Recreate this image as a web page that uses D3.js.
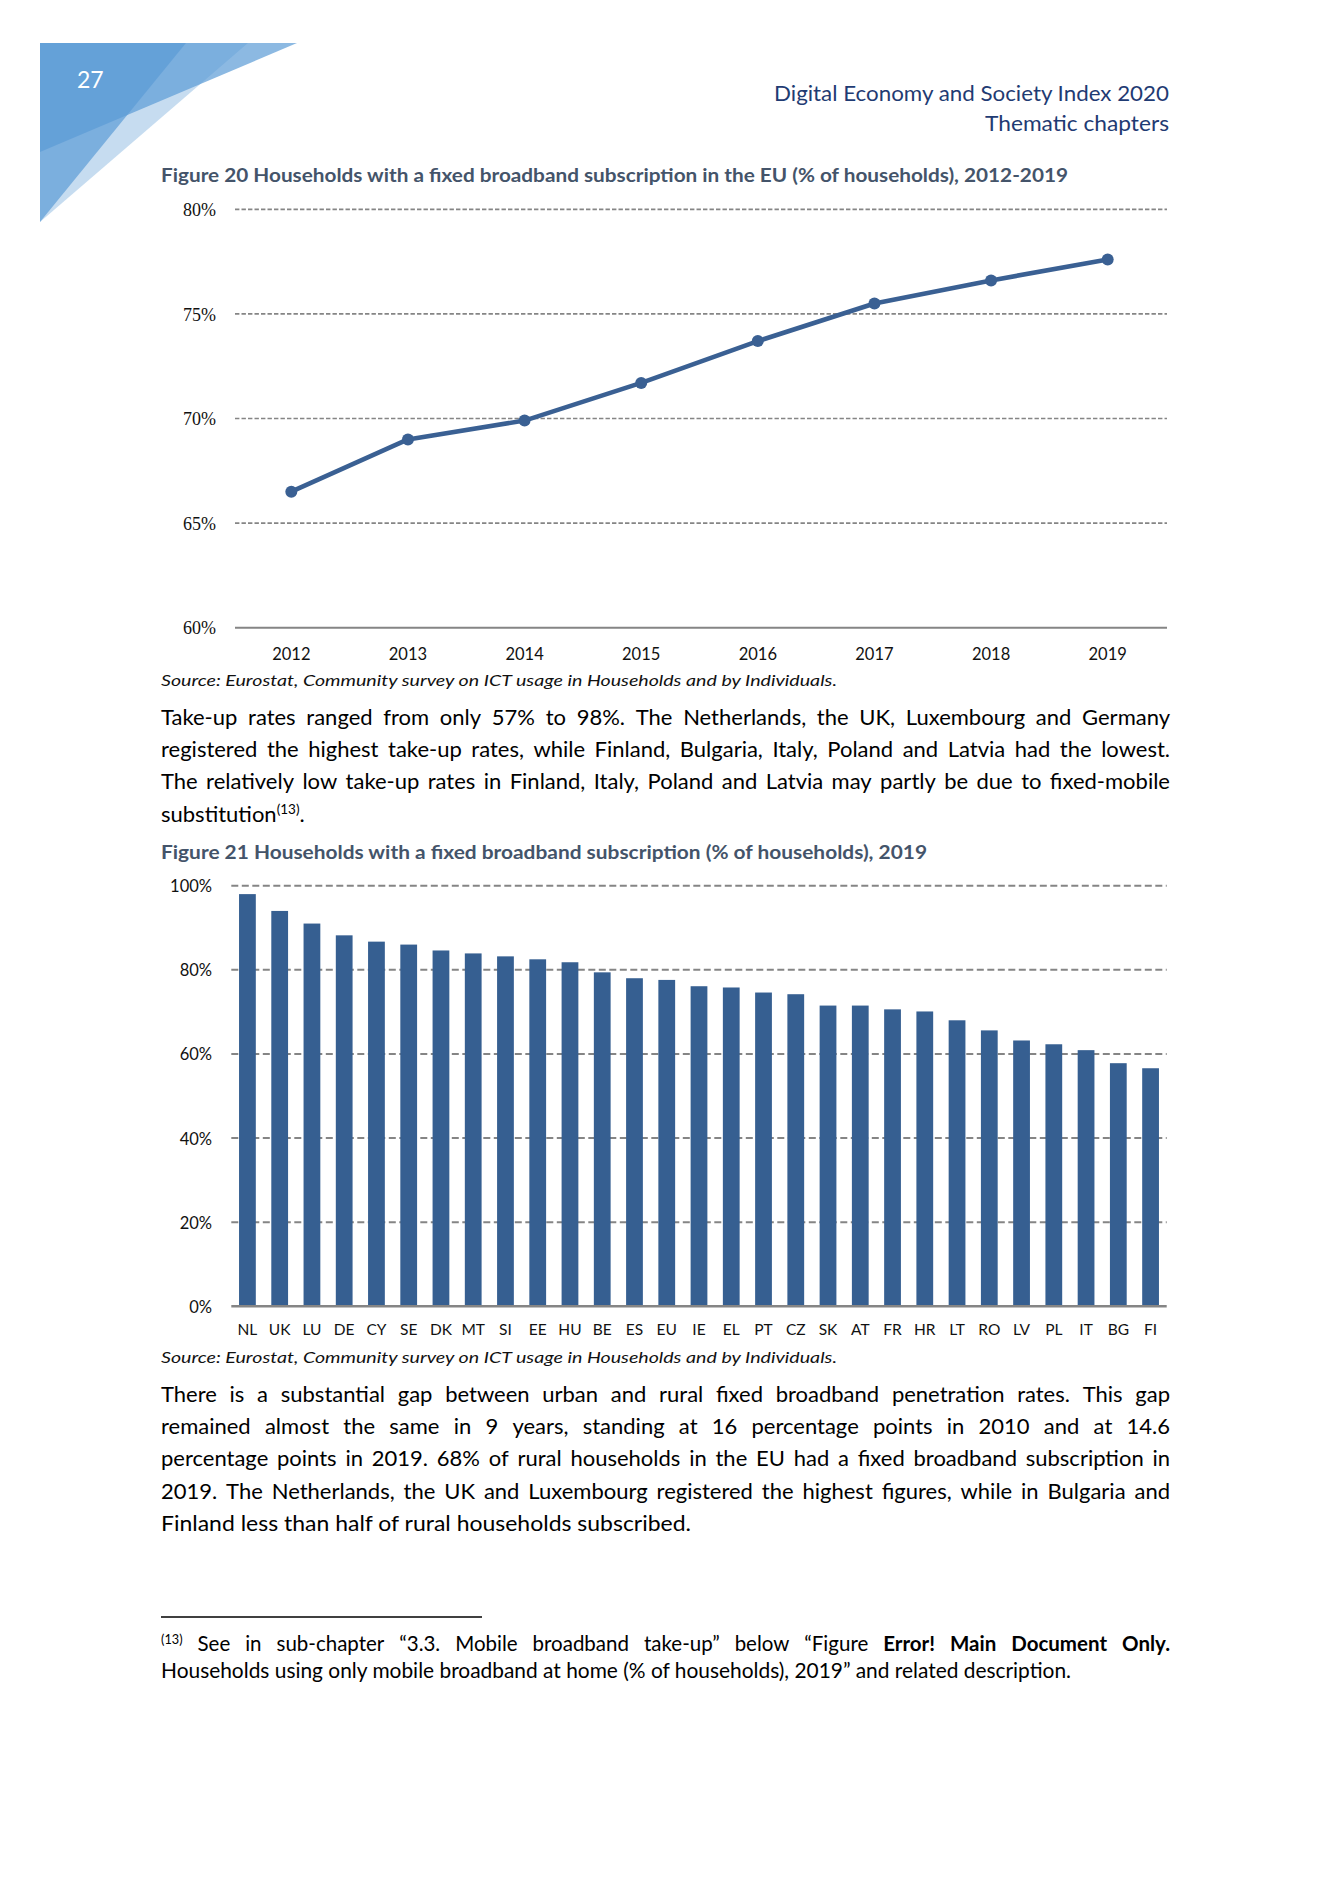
<!DOCTYPE html>
<html><head><meta charset="utf-8">
<script src="https://cdn.jsdelivr.net/npm/d3@7"></script>
<style>
html,body{margin:0;padding:0;background:#fff;}
svg{display:block;}
</style></head>
<body>
<svg id="page" width="1331" height="1883"></svg>
<script>
// ---------------- DATA ----------------
const years = ["2012","2013","2014","2015","2016","2017","2018","2019"];
const euValues = [66.5, 69.0, 69.9, 71.7, 73.7, 75.5, 76.6, 77.6];
const lineTicks = [60, 65, 70, 75, 80];

const countries = ["NL","UK","LU","DE","CY","SE","DK","MT","SI","EE","HU","BE","ES","EU","IE","EL","PT","CZ","SK","AT","FR","HR","LT","RO","LV","PL","IT","BG","FI"];
const countryValues = [98.0, 94.0, 91.0, 88.2, 86.7, 86.0, 84.6, 83.9, 83.2, 82.5, 81.8, 79.4, 78.0, 77.6, 76.1, 75.8, 74.6, 74.2, 71.5, 71.5, 70.6, 70.1, 68.0, 65.6, 63.2, 62.3, 60.9, 57.8, 56.6];
const barTicks = [0, 20, 40, 60, 80, 100];

const headerLines = ["Digital Economy and Society Index 2020", "Thematic chapters"];
const pageNumber = "27";
const title20 = "Figure 20 Households with a fixed broadband subscription in the EU (% of households), 2012-2019";
const title21 = "Figure 21 Households with a fixed broadband subscription (% of households), 2019";
const sourceText = "Source: Eurostat, Community survey on ICT usage in Households and by Individuals.";
const para1 = [
  "Take-up rates ranged from only 57% to 98%. The Netherlands, the UK, Luxembourg and Germany",
  "registered the highest take-up rates, while Finland, Bulgaria, Italy, Poland and Latvia had the lowest.",
  "The relatively low take-up rates in Finland, Italy, Poland and Latvia may partly be due to fixed-mobile"
];
const para2 = [
  "There is a substantial gap between urban and rural fixed broadband penetration rates. This gap",
  "remained almost the same in 9 years, standing at 16 percentage points in 2010 and at 14.6",
  "percentage points in 2019. 68% of rural households in the EU had a fixed broadband subscription in",
  "2019. The Netherlands, the UK and Luxembourg registered the highest figures, while in Bulgaria and",
  "Finland less than half of rural households subscribed."
];

// ---------------- SETUP ----------------
const svg = d3.select("#page");
const BODY = "Lato, 'Open Sans', sans-serif";
const BLUE = "#365f91";
const GRID = "#858585";

function measure(txt, st) {
  const t = svg.append("text").attr("x", -2000).attr("y", -2000)
    .style("font-family", st.family || BODY)
    .style("font-size", st.size + "px")
    .style("font-weight", st.bold ? 700 : 400)
    .style("font-style", st.italic ? "italic" : "normal")
    .text(txt);
  const w = t.node().getComputedTextLength();
  t.remove();
  return w;
}

// words: [{t, bold, sup}]
function justifyLine(g, words, x0, y, width, size, color) {
  const st = w => ({size: w.sup ? size * 0.62 : size, bold: w.bold});
  const ws = words.map(w => measure(w.t, st(w)));
  const total = d3.sum(ws);
  const n = words.length;
  const minGap = size * 0.2;
  let gap = (width - total) / (n - 1);
  let scale = 1;
  if (gap < minGap) { gap = minGap; scale = (width - (n - 1) * gap) / total; }
  let x = x0;
  words.forEach((w, i) => {
    const t = g.append("text")
      .attr("x", x)
      .attr("y", w.sup ? y - size * 0.36 : y)
      .style("font-family", BODY)
      .style("font-size", st(w).size + "px")
      .style("font-weight", w.bold ? 700 : 400)
      .attr("fill", color)
      .text(w.t);
    if (scale !== 1) t.attr("textLength", ws[i] * scale).attr("lengthAdjust", "spacingAndGlyphs");
    x += ws[i] * scale + gap;
  });
}
function words(str, opts) { return str.split(" ").map(t => Object.assign({t}, opts || {})); }

// ---------------- HEADER ----------------
const hdr = svg.append("g");
const triBase = "#5b9bd5";
hdr.append("path").attr("d", "M40,43 L248,43 L40,222 Z").attr("fill", triBase).attr("fill-opacity", 0.35);
hdr.append("path").attr("d", "M40,43 L297,43 L40,152 Z").attr("fill", triBase).attr("fill-opacity", 0.7);
hdr.append("path").attr("d", "M40,43 L186,43 L40,222 Z").attr("fill", triBase).attr("fill-opacity", 0.7);
hdr.append("text").attr("x", 77).attr("y", 88).attr("fill", "#fff")
  .style("font-family", BODY).style("font-size", "23px").text(pageNumber);
const headerWidths = [395, 184];
hdr.selectAll("text.hl").data(headerLines).join("text").attr("class", "hl")
  .attr("x", 1169).attr("y", (d, i) => 101 + i * 30)
  .attr("text-anchor", "end").attr("fill", "#1f3b73")
  .attr("textLength", (d, i) => headerWidths[i]).attr("lengthAdjust", "spacingAndGlyphs")
  .style("font-family", BODY).style("font-size", "22px").text(d => d);

// ---------------- FIGURE 20 ----------------
svg.append("text").attr("x", 161).attr("y", 182).attr("fill", "#44546a")
  .style("font-family", BODY).style("font-size", "18.5px").style("font-weight", 700)
  .attr("textLength", 907).attr("lengthAdjust", "spacingAndGlyphs").text(title20);

const y1 = d3.scaleLinear().domain([60, 80]).range([627.7, 209.3]);
const x1 = d3.scaleBand().domain(years).range([233, 1166]);
const c1 = svg.append("g");

c1.selectAll("line.grid").data(lineTicks.filter(d => d > 60)).join("line").attr("class", "grid")
  .attr("x1", 235).attr("x2", 1167).attr("y1", d => y1(d)).attr("y2", d => y1(d))
  .attr("stroke", GRID).attr("stroke-width", 1.7).attr("stroke-dasharray", "4.4,2.1");

const yAxis1 = c1.append("g").attr("transform", "translate(216,0)")
  .call(d3.axisLeft(y1).tickValues(lineTicks).tickSize(0).tickPadding(0).tickFormat(d => d + "%"));
yAxis1.select(".domain").remove();
yAxis1.selectAll("text").style("font-family", "'Liberation Serif', 'Times New Roman', serif")
  .style("font-size", "18px").attr("fill", "#111").attr("dy", "0.34em");

c1.append("line").attr("x1", 235).attr("x2", 1167).attr("y1", y1(60)).attr("y2", y1(60))
  .attr("stroke", GRID).attr("stroke-width", 2);

const xAxis1 = c1.append("g").attr("transform", `translate(0,${y1(60)})`)
  .call(d3.axisBottom(x1).tickSize(0).tickPadding(0));
xAxis1.select(".domain").remove();
xAxis1.selectAll("text").attr("y", 32).attr("dy", 0)
  .style("font-family", BODY).style("font-size", "16.5px").attr("fill", "#111");

const line1 = d3.line().x((d, i) => x1(years[i]) + x1.bandwidth() / 2).y(d => y1(d));
c1.append("path").datum(euValues).attr("d", line1).attr("fill", "none")
  .attr("stroke", "#3a6093").attr("stroke-width", 4.6).attr("stroke-linejoin", "round");
c1.selectAll("circle").data(euValues).join("circle")
  .attr("cx", (d, i) => x1(years[i]) + x1.bandwidth() / 2).attr("cy", d => y1(d))
  .attr("r", 6).attr("fill", "#3a6093");

svg.append("text").attr("x", 161).attr("y", 686).attr("fill", "#111")
  .style("font-family", BODY).style("font-size", "16px").style("font-style", "italic")
  .attr("textLength", 676).attr("lengthAdjust", "spacingAndGlyphs").text(sourceText);

// ---------------- PARAGRAPH 1 ----------------
const p1 = svg.append("g");
const bodySize = 22;
const p1y = 724.5;
para1.forEach((ln, i) => justifyLine(p1, words(ln), 161, p1y + i * 32.4, 1009, bodySize, "#000"));
const last1 = p1.append("text").attr("x", 161).attr("y", p1y + 3 * 32.4)
  .style("font-family", BODY).style("font-size", bodySize + "px").attr("fill", "#000");
last1.append("tspan").text("substitution");
last1.append("tspan").attr("dy", -8).style("font-size", "13.5px").text("(13)");
last1.append("tspan").attr("dy", 8).text(".");

// ---------------- FIGURE 21 ----------------
svg.append("text").attr("x", 161).attr("y", 859).attr("fill", "#44546a")
  .style("font-family", BODY).style("font-size", "18.5px").style("font-weight", 700)
  .attr("textLength", 766).attr("lengthAdjust", "spacingAndGlyphs").text(title21);

const y2 = d3.scaleLinear().domain([0, 100]).range([1306.3, 885.7]);
const x2 = d3.scaleBand().domain(countries).range([231.3, 1166.7]).paddingInner(0.48).paddingOuter(0.24);
const c2 = svg.append("g");

c2.selectAll("line.grid").data(barTicks.filter(d => d > 0)).join("line").attr("class", "grid")
  .attr("x1", 231.3).attr("x2", 1166.7).attr("y1", d => y2(d)).attr("y2", d => y2(d))
  .attr("stroke", GRID).attr("stroke-width", 2).attr("stroke-dasharray", "7,3.5");

c2.selectAll("rect").data(countryValues).join("rect")
  .attr("x", (d, i) => x2(countries[i])).attr("width", x2.bandwidth())
  .attr("y", d => y2(d)).attr("height", d => y2(0) - y2(d)).attr("fill", BLUE);

c2.append("line").attr("x1", 231.3).attr("x2", 1166.7).attr("y1", y2(0)).attr("y2", y2(0))
  .attr("stroke", GRID).attr("stroke-width", 2.6);

const yAxis2 = c2.append("g").attr("transform", "translate(212,0)")
  .call(d3.axisLeft(y2).tickValues(barTicks).tickSize(0).tickPadding(0).tickFormat(d => d + "%"));
yAxis2.select(".domain").remove();
yAxis2.selectAll("text").style("font-family", BODY).style("font-size", "16.5px")
  .attr("fill", "#111").attr("dy", "0.36em");

const xAxis2 = c2.append("g").attr("transform", `translate(0,${y2(0)})`)
  .call(d3.axisBottom(x2).tickSize(0).tickPadding(0));
xAxis2.select(".domain").remove();
xAxis2.selectAll("text").attr("y", 28.5).attr("dy", 0)
  .style("font-family", BODY).style("font-size", "15.5px").attr("fill", "#111");

svg.append("text").attr("x", 161).attr("y", 1363).attr("fill", "#111")
  .style("font-family", BODY).style("font-size", "16px").style("font-style", "italic")
  .attr("textLength", 676).attr("lengthAdjust", "spacingAndGlyphs").text(sourceText);

// ---------------- PARAGRAPH 2 ----------------
const p2 = svg.append("g");
const p2y = 1401.5;
para2.slice(0, 4).forEach((ln, i) => justifyLine(p2, words(ln), 161, p2y + i * 32.4, 1009, bodySize, "#000"));
p2.append("text").attr("x", 161).attr("y", p2y + 4 * 32.4)
  .style("font-family", BODY).style("font-size", bodySize + "px").attr("fill", "#000")
  .attr("textLength", 530).attr("lengthAdjust", "spacingAndGlyphs").text(para2[4]);

// ---------------- FOOTNOTE ----------------
const fn = svg.append("g");
fn.append("line").attr("x1", 161).attr("x2", 482).attr("y1", 1617).attr("y2", 1617)
  .attr("stroke", "#000").attr("stroke-width", 1.3);
const fnSize = 20.5;
const fnWords = [{t: "(13)", sup: true}]
  .concat(words("See in sub-chapter “3.3. Mobile broadband take-up” below “Figure"))
  .concat(words("Error! Main Document Only.", {bold: true}));
justifyLine(fn, fnWords, 161, 1651, 1009, fnSize, "#000");
fn.append("text").attr("x", 161).attr("y", 1677.5)
  .style("font-family", BODY).style("font-size", fnSize + "px").attr("fill", "#000")
  .attr("textLength", 910).attr("lengthAdjust", "spacingAndGlyphs")
  .text("Households using only mobile broadband at home (% of households), 2019” and related description.");
</script>
</body></html>
